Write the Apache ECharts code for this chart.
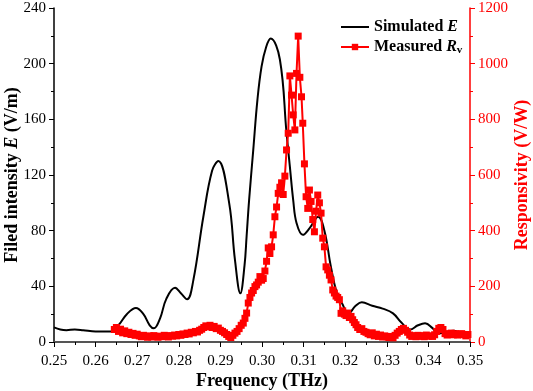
<!DOCTYPE html>
<html>
<head>
<meta charset="utf-8">
<script src="https://cdn.jsdelivr.net/npm/echarts@6/dist/echarts.min.js"></script>
<style>
  html, body { margin: 0; padding: 0; background: #fff; }
  #main { width: 533px; height: 391px; }
</style>
</head>
<body>
<div id="main"></div>
<script>
// simulated field intensity (V/m)
var simFreq = [0.250, 0.2515, 0.253, 0.255, 0.257, 0.260, 0.2635, 0.2655, 0.2675, 0.2697,
  0.2715, 0.273, 0.274, 0.2755, 0.277, 0.2791, 0.2805, 0.282, 0.2835, 0.2859,
  0.288, 0.2895, 0.2921, 0.2935, 0.2948, 0.2958, 0.2963, 0.2969, 0.2979, 0.2989,
  0.2999, 0.301, 0.3021, 0.3043, 0.3059, 0.3067, 0.3075, 0.3083, 0.3098, 0.3115,
  0.3135, 0.315, 0.3165, 0.318, 0.3192, 0.3208, 0.3225, 0.324, 0.3265, 0.329,
  0.3315, 0.3335, 0.3356, 0.3375, 0.3392, 0.341, 0.3424, 0.344, 0.346, 0.348, 0.350];
var simE = [10.5, 9, 8.5, 9, 8.5, 7.5, 7.5, 12, 20, 24.5,
  20, 12, 9.8, 17, 31, 39, 35, 30.7, 44.5, 90,
  123, 130, 100, 59, 35, 55, 76, 102, 138, 174,
  198, 212, 218, 203, 150, 126, 102, 85.5, 77, 82,
  90, 80, 55, 35, 28, 20.6, 26, 28.5, 26, 24,
  20.6, 14, 9, 12, 13.4, 10, 6.2, 7, 8, 6.5, 6];

// measured responsivity (V/W)
var rvFreq = [0.2645, 0.2650, 0.2655, 0.2660, 0.2665, 0.2670, 0.2675, 0.2680, 0.2685, 0.2690,
  0.2695, 0.2700, 0.2705, 0.2710, 0.2715, 0.2720, 0.2725, 0.2730, 0.2735, 0.2740,
  0.2745, 0.2750, 0.2755, 0.2760, 0.2765, 0.2770, 0.2775, 0.2780, 0.2785, 0.2790,
  0.2795, 0.2800, 0.2805, 0.2810, 0.2815, 0.2820, 0.2825, 0.2830, 0.2835, 0.2840,
  0.2845, 0.2850, 0.2855, 0.2860, 0.2865, 0.2870, 0.2875, 0.2880, 0.2885, 0.2890,
  0.2895, 0.2900, 0.2905, 0.2910, 0.2915, 0.2920, 0.2925, 0.2930, 0.2935, 0.2940,
  0.2945, 0.2950, 0.2955, 0.2959, 0.2963, 0.2967, 0.2971, 0.2975, 0.2979, 0.2983,
  0.2987, 0.2991, 0.2995, 0.2999, 0.3003, 0.3007, 0.3011, 0.3015, 0.3019, 0.3023,
  0.3027, 0.3031, 0.3035, 0.3039, 0.3043, 0.3047, 0.3051, 0.3055, 0.3059, 0.3063,
  0.3067, 0.3071, 0.3075, 0.3079, 0.3083, 0.3087, 0.3091, 0.3095, 0.3098, 0.3102,
  0.3106, 0.3110, 0.3114, 0.3118, 0.3122, 0.3126, 0.3130, 0.3134, 0.3138, 0.3142,
  0.3146, 0.3150, 0.3154, 0.3158, 0.3162, 0.3166, 0.3170, 0.3174, 0.3178, 0.3182,
  0.3186, 0.3190, 0.3194, 0.3198, 0.3202, 0.3206, 0.3210, 0.3214, 0.3218, 0.3222,
  0.3226, 0.3230, 0.3235, 0.3240, 0.3245, 0.3250, 0.3255, 0.3260, 0.3265, 0.3270,
  0.3275, 0.3280, 0.3285, 0.3290, 0.3295, 0.3300, 0.3305, 0.3310, 0.3315, 0.3320,
  0.3325, 0.3330, 0.3335, 0.3340, 0.3345, 0.3350, 0.3355, 0.3360, 0.3365, 0.3370,
  0.3375, 0.3380, 0.3385, 0.3390, 0.3395, 0.3400, 0.3405, 0.3410, 0.3415, 0.3420,
  0.3425, 0.3430, 0.3435, 0.3440, 0.3445, 0.3450, 0.3455, 0.3460, 0.3465, 0.3470,
  0.3475, 0.3480, 0.3485, 0.3490, 0.3495];
var rvValue = [45, 52, 38, 46, 33, 40, 30, 35, 27, 31,
  24, 28, 22, 19, 24, 20, 17, 22, 18, 23,
  20, 17, 21, 19, 24, 20, 18, 23, 21, 25,
  22, 27, 24, 29, 27, 32, 29, 35, 33, 38,
  36, 42, 46, 52, 58, 55, 60, 52, 56, 48,
  50, 42, 38, 33, 27, 20, 16, 24, 32, 38,
  48, 60, 68, 85, 104, 140, 160, 176, 185, 199,
  205, 215, 235, 222, 228, 255, 290, 338, 318, 342,
  385, 450, 485, 534, 556, 572, 530, 596, 690, 750,
  956, 887, 816, 762, 965, 1099, 951, 881, 786, 640,
  522, 480, 546, 505, 440, 396, 470, 528, 500, 463,
  373, 342, 270, 259, 240, 223, 187, 176, 165, 160,
  152, 103, 112, 100, 95, 104, 88, 92, 80, 70,
  62, 52, 45, 48, 38, 35, 30, 26, 33, 22,
  28, 20, 25, 18, 22, 19, 16, 20, 15, 24,
  32, 38, 45, 49, 42, 35, 25, 20, 23, 19,
  24, 20, 23, 19, 25, 21, 22, 20, 26, 38,
  49, 52, 45, 30, 25, 28, 32, 26, 30, 25,
  28, 30, 26, 22, 27];

var font = "Liberation Serif";

var simData = simFreq.map(function (f, i) { return [f, simE[i]]; });
var rvData = rvFreq.map(function (f, i) { return [f, rvValue[i]]; });

var myChart = echarts.init(document.getElementById("main"));

var option = {
  animation: false,
  grid: { left: 54, right: 63, top: 8, bottom: 49, outerBoundsMode: "none", containLabel: false },
  legend: {
    orient: "vertical",
    left: 335,
    top: 14,
    itemWidth: 28,
    itemHeight: 8,
    itemGap: 4,
    data: [
      { name: "Simulated E", itemStyle: { opacity: 0 } },
      { name: "Measured Rv" },
    ],
    formatter: function (name) {
      if (name === "Simulated E") return "{b|Simulated }{i|E}";
      return "{b|Measured }{i|R}{s|v}";
    },
    textStyle: {
      color: "#000",
      fontFamily: font,
      fontSize: 16,
      fontWeight: "bold",
      rich: {
        b: { fontFamily: font, fontSize: 16, fontWeight: "bold", color: "#000", lineHeight: 18 },
        i: { fontFamily: font, fontSize: 16, fontWeight: "bold", fontStyle: "italic", color: "#000", lineHeight: 18 },
        s: { fontFamily: font, fontSize: 11, color: "#000", verticalAlign: "bottom", lineHeight: 18, padding: [6, 0, 0, 0] },
      },
    },
  },
  xAxis: [
    {
      type: "value",
      position: "bottom",
      min: 0.25,
      max: 0.35,
      interval: 0.01,
      name: "Frequency (THz)",
      nameLocation: "middle",
      nameGap: 30,
      nameMoveOverlap: false,
      nameTextStyle: { fontFamily: font, fontSize: 18, fontWeight: "bold", color: "#000" },
      axisLine: { lineStyle: { color: "#000", width: 1.5 } },
      axisTick: { length: 5, lineStyle: { color: "#000", width: 1 } },
      minorTick: { show: true, splitNumber: 2, length: 3, lineStyle: { color: "#000" } },
      splitLine: { show: false },
      axisLabel: {
        fontFamily: font,
        fontSize: 15,
        color: "#000",
        margin: 12,
        formatter: function (v) { return v.toFixed(2); },
      },
    },
    {
      type: "value",
      position: "top",
      min: 0.25,
      max: 0.35,
      axisLine: { lineStyle: { color: "#555", width: 2 } },
      axisTick: { show: false },
      axisLabel: { show: false },
      splitLine: { show: false },
    },
  ],
  yAxis: [
    {
      type: "value",
      position: "left",
      min: 0,
      max: 240,
      interval: 40,
      name: "{b|Filed intensity }{i|E}{b| (V/m)}",
      nameLocation: "middle",
      nameRotate: 90,
      nameGap: 33,
      nameMoveOverlap: false,
      nameTextStyle: {
        rich: {
          b: { fontFamily: font, fontSize: 18, fontWeight: "bold", color: "#000" },
          i: { fontFamily: font, fontSize: 18, fontWeight: "bold", fontStyle: "italic", color: "#000" },
        },
      },
      axisLine: { show: true, lineStyle: { color: "#000", width: 1.5 } },
      axisTick: { show: true, length: 5, lineStyle: { color: "#000" } },
      minorTick: { show: true, splitNumber: 2, length: 3, lineStyle: { color: "#000" } },
      splitLine: { show: false },
      axisLabel: { fontFamily: font, fontSize: 15, color: "#000", margin: 8 },
    },
    {
      type: "value",
      position: "right",
      min: 0,
      max: 1200,
      interval: 200,
      name: "Responsivity (V/W)",
      nameLocation: "middle",
      nameRotate: 90,
      nameGap: 43,
      nameMoveOverlap: false,
      nameTextStyle: { fontFamily: font, fontSize: 18, fontWeight: "bold", color: "#ff0000" },
      axisLine: { show: true, lineStyle: { color: "#ff0000", width: 1.5 } },
      axisTick: { show: true, length: 5, lineStyle: { color: "#ff0000" } },
      minorTick: { show: true, splitNumber: 2, length: 3, lineStyle: { color: "#ff0000" } },
      splitLine: { show: false },
      axisLabel: {
        fontFamily: font,
        fontSize: 15,
        color: "#ff0000",
        margin: 8,
        formatter: function (v) { return String(v); },
      },
    },
  ],
  series: [
    {
      name: "Simulated E",
      type: "line",
      xAxisIndex: 0,
      yAxisIndex: 0,
      smooth: 0.4,
      symbol: "none",
      lineStyle: { color: "#000", width: 2 },
      itemStyle: { color: "#000" },
      data: simData,
    },
    {
      name: "Measured Rv",
      type: "line",
      xAxisIndex: 0,
      yAxisIndex: 1,
      symbol: "rect",
      symbolSize: 7,
      showAllSymbol: true,
      lineStyle: { color: "#ff0000", width: 2 },
      itemStyle: { color: "#ff0000" },
      data: rvData,
    },
  ],
};

myChart.setOption(option);
</script>
</body>
</html>
